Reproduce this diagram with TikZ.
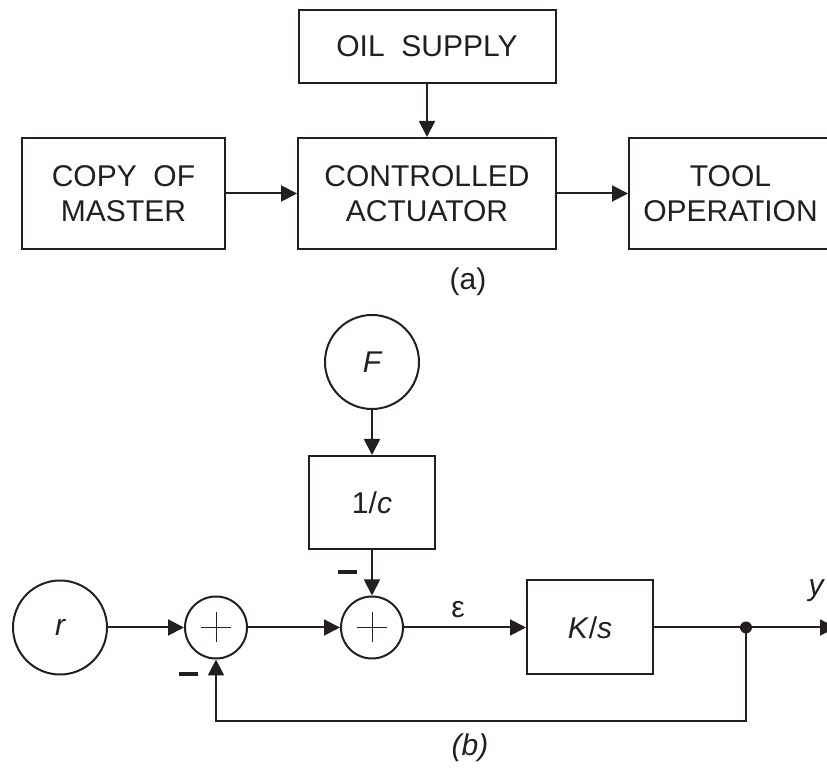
\documentclass[tikz,border=0pt]{standalone}
\usepackage{fontspec}
\setmainfont{Liberation Sans}
\usetikzlibrary{arrows.meta}
\definecolor{ink}{RGB}{35,31,32}

\begin{document}
\begin{tikzpicture}[x=0.5pt, y=-0.5pt, ink, line width=1pt,
    font=\fontsize{15}{17.5}\selectfont,
    blk/.style={draw, rectangle, align=center, inner sep=0pt},
    src/.style={draw, circle, inner sep=0pt, minimum size=47pt},
    summ/.style={draw, circle, inner sep=0pt, minimum size=31pt},
    arr/.style={-{Triangle[length=8pt,width=8pt]}}]
    \useasboundingbox (0,0) rectangle (827,769);

    % (a) Blocks
    \node[blk, minimum width=128.5pt, minimum height=36.5pt] (oil) at (427,46.5) {OIL~~SUPPLY};
    \node[blk, minimum width=101.5pt, minimum height=55.5pt] (copy) at (123.5,193.5) {COPY~~OF\\MASTER};
    \node[blk, minimum width=129pt, minimum height=55.5pt] (act) at (427,193.5) {CONTROLLED\\ACTUATOR};
    \node[blk, minimum width=101.5pt, minimum height=55.5pt] (tool) at (730.5,193.5) {TOOL\\OPERATION};
    \node (capa) at (468,282) {(a)};

    % (a) Arrows
    \draw[arr] (oil) -- (act);
    \draw[arr] (copy) -- (act);
    \draw[arr] (act) -- (tool);

    % (b) Blocks
    \node[src] (F) at (372,362) {\itshape F};
    \node[blk, minimum width=63pt, minimum height=46.5pt] (inv) at (372,502.5) {1/\textit{c}};
    \node[src] (r) at (60,627.5) {\itshape r};
    \node[summ] (sum1) at (216,627.5) {};
    \node[summ] (sum2) at (372,627.5) {};
    \node[blk, minimum width=63pt, minimum height=47pt] (plant) at (590,627.5) {\textit{K}/\textit{s}};
    \coordinate (br) at (746,627.5);
    \coordinate (out) at (836,627.5);
    \coordinate (fb) at (746,721);

    % Plus signs
    \foreach \s in {sum1,sum2} {
        \draw[line width=0.5pt] ([xshift=-7.5pt]\s.center) -- ([xshift=7.5pt]\s.center);
        \draw[line width=0.5pt] ([yshift=-7.5pt]\s.center) -- ([yshift=7.5pt]\s.center);
    }

    % (b) Arrows
    \draw[arr] (F) -- (inv);
    \draw[arr] (inv) -- (sum2);
    \draw[arr] (r) -- (sum1);
    \draw[arr] (sum1) -- (sum2);
    \draw[arr] (sum2) -- (plant);
    \draw[arr] (plant) -- (out);
    \fill (br) circle (3pt);
    \draw[arr] (br) -- (fb) -| (sum1.south);

    % Labels
    \node (eps) at (458,610) {ε};
    \node (lbly) at (816,591) {\itshape y};
    \node[inner sep=0pt] (neg1) at (188,674.5) {\rule{9.5pt}{2pt}};
    \node[inner sep=0pt] (neg2) at (347,572.5) {\rule{9.5pt}{2pt}};
    \node (capb) at (470,748) {\itshape (b)};
\end{tikzpicture}
\end{document}
